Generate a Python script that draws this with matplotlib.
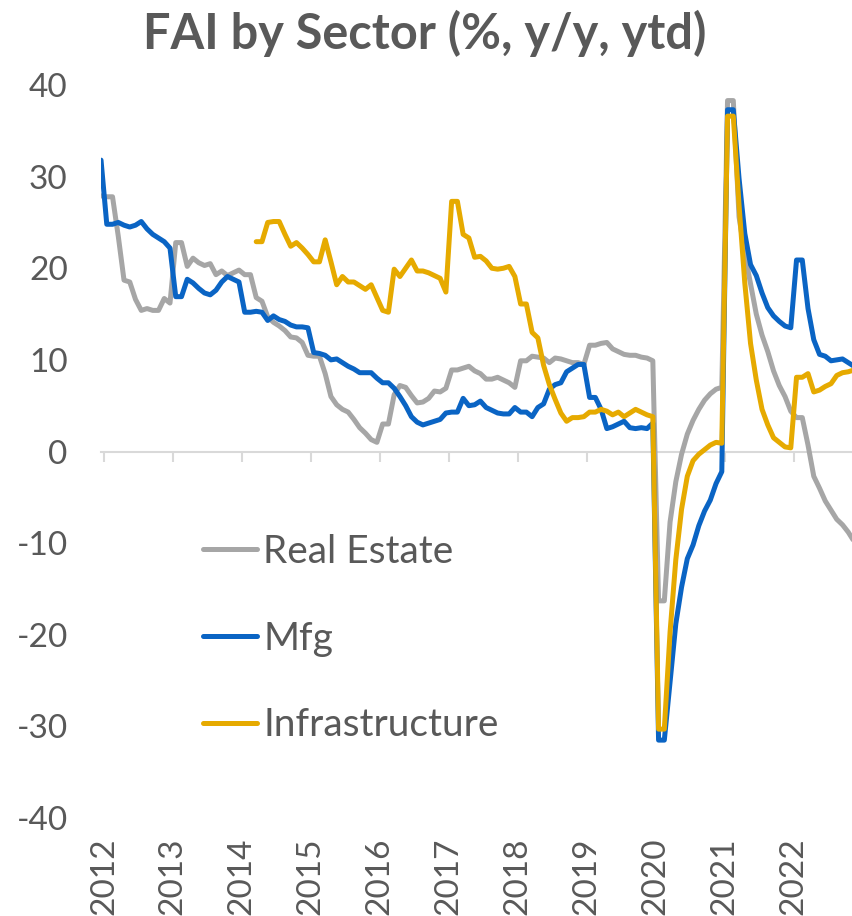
import numpy as np
import pandas as pd
import matplotlib.pyplot as plt

plt.rcParams['font.family'] = ['Lato', 'DejaVu Sans']
plt.rcParams['axes.unicode_minus'] = False

# monthly, Dec 2011 .. Nov 2022 (Jan shares the Jan-Feb ytd figure)
months = pd.period_range('2011-12', '2022-11', freq='M')

real_estate = [
    27.9,
    27.8, 27.8, 23.5, 18.7, 18.5, 16.6, 15.4, 15.6, 15.4, 15.4, 16.7, 16.2,
    22.8, 22.8, 20.2, 21.1, 20.6, 20.3, 20.5, 19.3, 19.7, 19.2, 19.5, 19.8,
    19.3, 19.3, 16.8, 16.4, 14.7, 14.1, 13.7, 13.2, 12.5, 12.4, 11.9, 10.5,
    10.4, 10.4, 8.5, 6.0, 5.1, 4.6, 4.3, 3.5, 2.6, 2.0, 1.3, 1.0,
    3.0, 3.0, 6.2, 7.2, 7.0, 6.1, 5.3, 5.4, 5.8, 6.6, 6.5, 6.9,
    8.9, 8.9, 9.1, 9.3, 8.8, 8.5, 7.9, 7.9, 8.1, 7.8, 7.5, 7.0,
    9.9, 9.9, 10.4, 10.3, 10.2, 9.7, 10.2, 10.1, 9.9, 9.7, 9.7, 9.5,
    11.6, 11.6, 11.8, 11.9, 11.2, 10.9, 10.6, 10.5, 10.5, 10.3, 10.2, 9.9,
    -16.3, -16.3, -7.7, -3.3, -0.3, 1.9, 3.4, 4.6, 5.6, 6.3, 6.8, 7.0,
    38.3, 38.3, 25.6, 21.6, 18.3, 15.0, 12.7, 10.9, 8.8, 7.2, 6.0, 4.4,
    3.7, 3.7, 0.7, -2.7, -4.0, -5.4, -6.4, -7.4, -8.0, -8.8, -9.8,
]

mfg = [
    31.8,
    24.8, 24.8, 25.0, 24.7, 24.5, 24.7, 25.1, 24.3, 23.7, 23.3, 22.9, 22.2,
    16.9, 16.9, 18.8, 18.4, 17.8, 17.3, 17.1, 17.6, 18.5, 19.1, 18.8, 18.5,
    15.2, 15.2, 15.3, 15.2, 14.3, 14.8, 14.4, 14.2, 13.8, 13.6, 13.6, 13.5,
    10.8, 10.7, 10.5, 10.0, 10.1, 9.7, 9.3, 9.0, 8.6, 8.6, 8.6, 8.0,
    7.5, 7.5, 6.9, 6.0, 5.0, 3.8, 3.2, 2.9, 3.1, 3.3, 3.5, 4.2,
    4.3, 4.3, 5.8, 5.0, 5.1, 5.5, 4.8, 4.5, 4.2, 4.1, 4.1, 4.8,
    4.3, 4.3, 3.8, 4.8, 5.2, 6.8, 7.3, 7.5, 8.7, 9.1, 9.5, 9.5,
    5.9, 5.9, 4.6, 2.5, 2.7, 3.0, 3.3, 2.6, 2.5, 2.6, 2.5, 3.1,
    -31.5, -31.5, -25.2, -18.8, -14.8, -11.7, -10.2, -8.1, -6.5, -5.3, -3.5, -2.2,
    37.3, 37.3, 29.8, 23.8, 20.4, 19.2, 17.3, 15.7, 14.8, 14.2, 13.7, 13.5,
    20.9, 20.9, 15.6, 12.2, 10.6, 10.4, 9.9, 10.0, 10.1, 9.7, 9.3,
]

# infrastructure series starts Mar 2014
infra = [np.nan] * 27 + [
    22.9, 22.9, 25.0, 25.1, 25.1, 23.7, 22.4, 22.8, 22.2, 21.5,
    20.7, 20.7, 23.1, 20.7, 18.2, 19.1, 18.5, 18.5, 18.1, 17.7, 18.2, 16.8,
    15.4, 15.2, 19.9, 19.1, 20.0, 20.9, 19.7, 19.7, 19.5, 19.2, 18.9, 17.4,
    27.3, 27.3, 23.7, 23.3, 21.2, 21.3, 20.8, 20.0, 19.9, 20.0, 20.2, 19.1,
    16.1, 16.1, 13.0, 12.4, 9.4, 7.3, 5.7, 4.2, 3.3, 3.7, 3.7, 3.8,
    4.3, 4.3, 4.6, 4.4, 4.0, 4.3, 3.8, 4.2, 4.6, 4.3, 4.0, 3.8,
    -30.3, -30.3, -19.7, -11.8, -6.3, -2.7, -1.0, -0.3, 0.2, 0.7, 1.0, 0.9,
    36.6, 36.6, 26.9, 18.4, 11.8, 7.8, 4.6, 2.9, 1.5, 1.0, 0.5, 0.4,
    8.1, 8.1, 8.5, 6.5, 6.7, 7.1, 7.4, 8.3, 8.6, 8.7, 8.9,
]

years = list(range(2012, 2023))

# x position: middle of each month in decimal years
x = months.year + (months.month - 0.5) / 12

text_color = '#595959'
axis_color = '#D9D9D9'

fig = plt.figure(figsize=(8.52, 9.16), dpi=100)
ax = fig.add_axes([101 / 852, 98 / 916, 753 / 852, 733 / 916])

line_kw = dict(lw=3.6, solid_capstyle='round', solid_joinstyle='round')
ax.plot(x, real_estate, color='#A6A6A6', label='Real Estate', **line_kw)
ax.plot(x, mfg, color='#0A64C4', label='Mfg', **line_kw)
ax.plot(x, infra, color='#E6AA00', label='Infrastructure', **line_kw)

ax.set_xlim(2011.958, 2022.875)
ax.set_ylim(-40, 40)

for s in ax.spines.values():
    s.set_visible(False)

ax.set_yticks(range(-40, 41, 10))
ax.tick_params(axis='y', length=0, pad=24, labelsize=24, labelcolor=text_color)

ax.set_xticks(years)
ax.set_xticklabels([str(y) for y in years], rotation=90)
ax.tick_params(axis='x', length=0, pad=14, labelsize=24, labelcolor=text_color)

# zero line with year tick marks
zero = ax.secondary_xaxis(0.5)
zero.set_alignment('bottom')
zero.set_xticks(years)
zero.tick_params(axis='x', direction='out', length=7, width=1.5,
                 color=axis_color, labelbottom=False)
zero.spines['bottom'].set_color(axis_color)
zero.spines['bottom'].set_linewidth(1.5)
zero.set_zorder(0)

fig.text(0.498, 0.964, 'FAI by Sector (%, y/y, ytd)', ha='center', va='center',
         fontsize=35, fontweight='bold', color=text_color)

leg = ax.legend(loc='upper left', bbox_to_anchor=(203 / 852, 0.417),
                bbox_transform=fig.transFigure, frameon=False, fontsize=28,
                handlelength=1.4, handletextpad=0.15, labelspacing=1.3,
                borderpad=0, borderaxespad=0)
for t in leg.get_texts():
    t.set_color(text_color)

fig.savefig('out.png', dpi=100)
